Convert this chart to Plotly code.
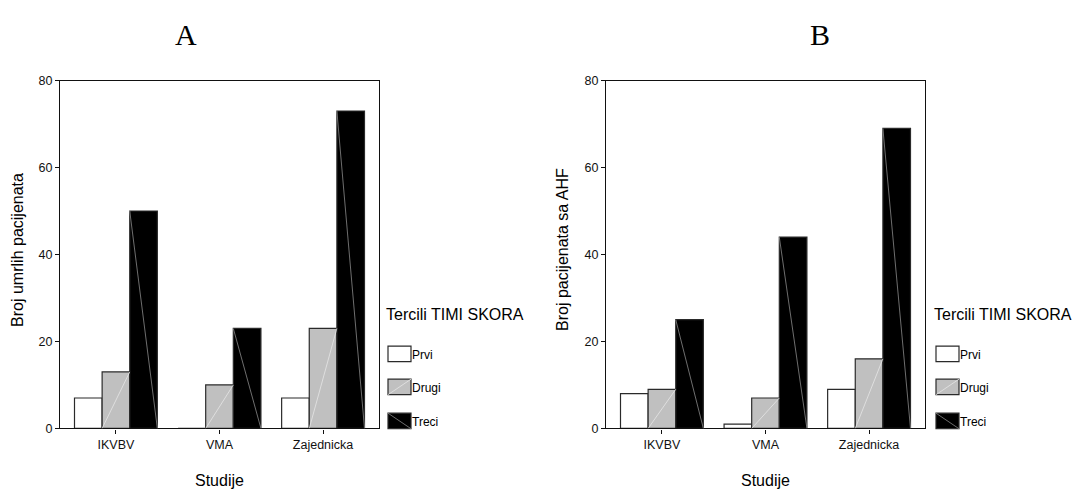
import plotly.graph_objects as go

# Study groups and TIMI score terciles
studije = ["IKVBV", "VMA", "Zajednicka"]
tercili = ["Prvi", "Drugi", "Treci"]

# Panel A: deceased patients per tercile
umrli_prvi = [7, 0, 7]
umrli_drugi = [13, 10, 23]
umrli_treci = [50, 23, 73]

# Panel B: patients with AHF per tercile
ahf_prvi = [8, 1, 9]
ahf_drugi = [9, 7, 16]
ahf_treci = [25, 44, 69]

y_ticks = [0, 20, 40, 60, 80]

W, H = 1076, 495
FILLS = {"Prvi": "#ffffff", "Drugi": "#c0c0c0", "Treci": "#000000"}
EDGE = "#2a2a2a"
SANS = "Liberation Sans, Arial, sans-serif"
SERIF = "Liberation Serif, Times New Roman, serif"
BARGAP = 0.2
BAR_W = (1 - BARGAP) / 3


def px(x):
    return x / W


def py(y):
    return 1 - y / H


fig = go.Figure()
shapes = []
annotations = []

panels = [
    ("x", "y", [umrli_prvi, umrli_drugi, umrli_treci]),
    ("x2", "y2", [ahf_prvi, ahf_drugi, ahf_treci]),
]

for xa, ya, series in panels:
    for k, (name, vals) in enumerate(zip(tercili, series)):
        fig.add_trace(go.Bar(
            x=list(range(len(studije))), y=vals, name=name,
            xaxis=xa, yaxis=ya, showlegend=False,
            marker=dict(color=FILLS[name], line=dict(color=EDGE, width=1.2)),
        ))
        # thin diagonal rendering line across the filled bars
        if name == "Prvi":
            continue
        for i, v in enumerate(vals):
            left = i - (1 - BARGAP) / 2 + k * BAR_W
            right = left + BAR_W
            if name == "Drugi":
                x0, y0, x1, y1, col = left, 0, right, v, "#e6e6e6"
            else:
                x0, y0, x1, y1, col = left, v, right, 0, "#8a8a8a"
            shapes.append(dict(type="line", xref=xa, yref=ya,
                               x0=x0, y0=y0, x1=x1, y1=y1,
                               line=dict(color=col, width=0.8)))

axis_common = dict(
    showline=True, mirror=True, linecolor="#111111", linewidth=1.3,
    showgrid=False, zeroline=False, ticks="outside", ticklen=4,
    tickcolor="#111111", tickfont=dict(family=SANS, size=12.5, color="#111111"),
)

y_top, y_bot = 75.7, 433.7
fig.update_layout(
    width=W, height=H,
    margin=dict(l=0, r=0, t=0, b=0),
    paper_bgcolor="white", plot_bgcolor="white",
    barmode="group", bargap=BARGAP, bargroupgap=0,
    xaxis=dict(domain=[px(60), px(379)], range=[-0.54, 2.54],
               tickvals=[0, 1, 2], ticktext=studije, anchor="y", **axis_common),
    yaxis=dict(domain=[py(y_bot), py(y_top)], range=[0, 80],
               tickvals=y_ticks, anchor="x", **axis_common),
    xaxis2=dict(domain=[px(606), px(925)], range=[-0.54, 2.54],
                tickvals=[0, 1, 2], ticktext=studije, anchor="y2", **axis_common),
    yaxis2=dict(domain=[py(y_bot), py(y_top)], range=[0, 80],
                tickvals=y_ticks, anchor="x2", **axis_common),
)


def text(x, y, s, size=16, family=SANS, angle=0, xanchor="center"):
    annotations.append(dict(
        xref="paper", yref="paper", x=px(x), y=py(y), text=s,
        showarrow=False, textangle=angle, xanchor=xanchor, yanchor="middle",
        font=dict(family=family, size=size, color="#000000"),
    ))


# Panel letters
text(186, 28, "A", size=30, family=SERIF)
text(820, 28, "B", size=30, family=SERIF)

# Axis titles
text(18, 250, "Broj umrlih pacijenata", angle=-90)
text(563, 250, "Broj pacijenata sa AHF", angle=-90)
text(219, 487, "Studije")
text(765, 487, "Studije")

# Legends
legend_rows = [357, 391, 426]
for lx in (384, 932):
    text(lx, 316, "Tercili TIMI SKORA", size=16, xanchor="left")
    bx0, bx1 = lx + 4, lx + 27
    for name, cy in zip(tercili, legend_rows):
        y0, y1 = cy - 8, cy + 8
        shapes.append(dict(type="rect", xref="paper", yref="paper",
                           x0=px(bx0), x1=px(bx1), y0=py(y1), y1=py(y0),
                           fillcolor=FILLS[name], line=dict(color=EDGE, width=1.2)))
        if name == "Drugi":
            shapes.append(dict(type="line", xref="paper", yref="paper",
                               x0=px(bx0), y0=py(y1), x1=px(bx1), y1=py(y0),
                               line=dict(color="#e6e6e6", width=0.8)))
        elif name == "Treci":
            shapes.append(dict(type="line", xref="paper", yref="paper",
                               x0=px(bx0), y0=py(y0), x1=px(bx1), y1=py(y1),
                               line=dict(color="#8a8a8a", width=0.8)))
        text(bx1 - 1, cy + 1, name, size=12, xanchor="left")

fig.update_layout(shapes=shapes, annotations=annotations)
fig.write_html("out.html")
